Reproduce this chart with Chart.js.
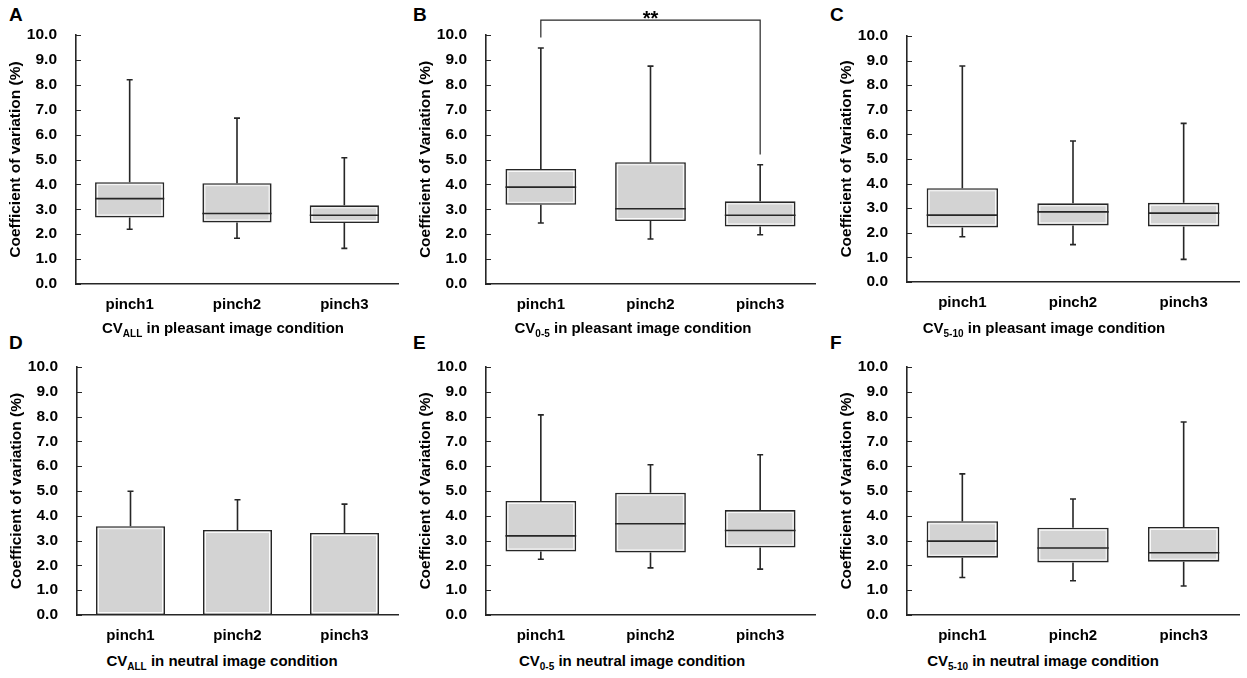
<!DOCTYPE html>
<html>
<head>
<meta charset="utf-8">
<script src="https://cdn.jsdelivr.net/npm/chart.js@4.4.0/dist/chart.umd.min.js"></script>
<style>
body { margin: 0; background: #fff; }
#fig { position: relative; width: 1247px; height: 678px; overflow: hidden; font-family: "Liberation Sans", Arial, sans-serif; }
#fig canvas { position: absolute; }
.letter { position: absolute; font-weight: bold; font-size: 19px; line-height: 19px; color: #000; }
.xt { position: absolute; font-weight: bold; font-size: 15px; line-height: 15px; white-space: nowrap; transform: translateX(-50%); color: #000; }
.xt sub { font-size: 10px; vertical-align: -4px; line-height: 0; }
</style>
</head>
<body>
<div id="fig">
  <div class="letter" style="left:9px;top:5px">A</div>
  <div class="letter" style="left:413px;top:5px">B</div>
  <div class="letter" style="left:830px;top:5px">C</div>
  <div class="letter" style="left:9px;top:333px">D</div>
  <div class="letter" style="left:413px;top:333px">E</div>
  <div class="letter" style="left:830px;top:333px">F</div>
  <canvas id="chartA"></canvas>
  <canvas id="chartB"></canvas>
  <canvas id="chartC"></canvas>
  <canvas id="chartD"></canvas>
  <canvas id="chartE"></canvas>
  <canvas id="chartF"></canvas>
  <div class="xt" style="left:223px;top:320px">CV<sub>ALL</sub> in pleasant image condition</div>
  <div class="xt" style="left:633px;top:320px">CV<sub>0-5</sub> in pleasant image condition</div>
  <div class="xt" style="left:1044px;top:320px">CV<sub>5-10</sub> in pleasant image condition</div>
  <div class="xt" style="left:222px;top:653px">CV<sub>ALL</sub> in neutral image condition</div>
  <div class="xt" style="left:632px;top:653px">CV<sub>0-5</sub> in neutral image condition</div>
  <div class="xt" style="left:1043px;top:653px">CV<sub>5-10</sub> in neutral image condition</div>
</div>
<script>
const categories = ['pinch1', 'pinch2', 'pinch3'];

// box plots: one row per pinch, [min, q1, median, q3, max]
const pleasantAll = [[2.20, 2.67, 3.43, 4.09, 8.20], [1.84, 2.47, 2.83, 4.05, 6.66], [1.43, 2.45, 2.76, 3.16, 5.07]];
const pleasant05 = [[2.45, 3.18, 3.89, 4.62, 9.48], [1.81, 2.53, 3.02, 4.89, 8.75], [1.98, 2.31, 2.76, 3.32, 4.79]];
const pleasant510 = [[1.84, 2.22, 2.72, 3.81, 8.78], [1.52, 2.30, 2.85, 3.20, 5.73], [0.92, 2.26, 2.80, 3.22, 6.45]];
const neutral05 = [[2.25, 2.56, 3.19, 4.60, 8.07], [1.90, 2.52, 3.68, 4.93, 6.06], [1.85, 2.72, 3.41, 4.23, 6.46]];
const neutral510 = [[1.51, 2.31, 2.98, 3.78, 5.69], [1.38, 2.12, 2.70, 3.52, 4.68], [1.17, 2.15, 2.51, 3.55, 7.78]];

// neutral CV_ALL is a mean bar with SD
const neutralAllMean = [3.58, 3.43, 3.31];
const neutralAllSd = [1.41, 1.22, 1.16];

// pinch1 vs pinch3 in panel B
const sigPair = [0, 2];
const sigLevel = 10.6, sigLeftFoot = 9.9, sigRightFoot = 5.2;
const sigLabel = '**';

const titleLower = 'Coefficient of variation (%)';
const titleUpper = 'Coefficient of Variation (%)';

const INK = '#262626';
const FONT = '"Liberation Sans", Arial, sans-serif';

const boxPlugin = {
    id: 'boxWhiskers',
    afterDatasetsDraw(chart) {
        const ctx = chart.ctx;
        const ds = chart.data.datasets[0];
        const y = chart.scales.y;
        const meta = chart.getDatasetMeta(0);
        ctx.save();
        meta.data.forEach((bar, i) => {
            const half = bar.width / 2;
            const top = Math.min(bar.y, bar.base), bot = Math.max(bar.y, bar.base);
            // light inner edge
            ctx.strokeStyle = 'rgba(255,255,255,0.9)';
            ctx.lineWidth = 1;
            ctx.strokeRect(bar.x - half + 2.5, top + 2.5, bar.width - 5, bot - top - 5);

            ctx.strokeStyle = INK;
            ctx.lineWidth = 1.6;
            ctx.beginPath();
            if (ds.stats) {
                const s = ds.stats[i];
                const pMin = y.getPixelForValue(s[0]);
                const pMed = y.getPixelForValue(s[2]);
                const pMax = y.getPixelForValue(s[4]);
                ctx.moveTo(bar.x - half, pMed); ctx.lineTo(bar.x + half, pMed);
                ctx.moveTo(bar.x, top); ctx.lineTo(bar.x, pMax);
                ctx.moveTo(bar.x - 3, pMax); ctx.lineTo(bar.x + 3, pMax);
                ctx.moveTo(bar.x, bot); ctx.lineTo(bar.x, pMin);
                ctx.moveTo(bar.x - 3, pMin); ctx.lineTo(bar.x + 3, pMin);
            } else if (ds.sd) {
                const pErr = y.getPixelForValue(ds.data[i] + ds.sd[i]);
                ctx.moveTo(bar.x, top); ctx.lineTo(bar.x, pErr);
                ctx.moveTo(bar.x - 3, pErr); ctx.lineTo(bar.x + 3, pErr);
            }
            ctx.stroke();
        });
        ctx.restore();
    },
    afterDraw(chart) {
        const ctx = chart.ctx;
        const x = chart.scales.x, y = chart.scales.y;
        const area = chart.chartArea;
        ctx.save();
        ctx.strokeStyle = INK;
        ctx.lineWidth = 1.2;
        ctx.beginPath();
        y.ticks.forEach(t => {
            const py = Math.round(y.getPixelForValue(t.value)) + 0.5;
            ctx.moveTo(area.left, py); ctx.lineTo(area.left + 5, py);
        });
        ctx.stroke();
        if (chart.data.datasets[0].sig) {
            const x1 = x.getPixelForValue(sigPair[0]);
            const x2 = x.getPixelForValue(sigPair[1]);
            const pl = y.getPixelForValue(sigLevel);
            ctx.beginPath();
            ctx.moveTo(x1, y.getPixelForValue(sigLeftFoot));
            ctx.lineTo(x1, pl);
            ctx.lineTo(x2, pl);
            ctx.lineTo(x2, y.getPixelForValue(sigRightFoot));
            ctx.stroke();
            ctx.fillStyle = '#000';
            ctx.font = 'bold 20px ' + FONT;
            ctx.textAlign = 'center';
            ctx.textBaseline = 'alphabetic';
            ctx.fillText(sigLabel, (x1 + x2) / 2, pl + 5);
        }
        ctx.restore();
    }
};

const panels = [
    { id: 'chartA', stats: pleasantAll, title: titleLower, area: [76, 398, 35, 284] },
    { id: 'chartB', stats: pleasant05, title: titleUpper, area: [486, 815, 35, 284], sig: true },
    { id: 'chartC', stats: pleasant510, title: titleUpper, area: [907, 1239, 36, 282] },
    { id: 'chartD', mean: neutralAllMean, sd: neutralAllSd, title: titleLower, area: [77, 398, 367, 615] },
    { id: 'chartE', stats: neutral05, title: titleUpper, area: [486, 815, 367, 615] },
    { id: 'chartF', stats: neutral510, title: titleUpper, area: [907, 1239, 367, 615] }
];

panels.forEach(p => {
    const [aLeft, aRight, aTop, aBottom] = p.area;
    const left = aLeft - 76, top = aTop - 35;
    const width = aRight - left + 8, height = aBottom - top + 34;
    const cv = document.getElementById(p.id);
    cv.width = width; cv.height = height;
    cv.style.left = left + 'px'; cv.style.top = top + 'px';
    cv.style.width = width + 'px'; cv.style.height = height + 'px';

    const dataset = {
        data: p.stats ? p.stats.map(s => [s[1], s[3]]) : p.mean,
        backgroundColor: '#d3d3d3',
        borderColor: INK,
        borderWidth: 1.6,
        borderSkipped: false,
        barPercentage: 0.645,
        categoryPercentage: 1
    };
    if (p.stats) dataset.stats = p.stats;
    if (p.sd) dataset.sd = p.sd;
    if (p.sig) dataset.sig = true;

    new Chart(cv.getContext('2d'), {
        type: 'bar',
        data: { labels: categories, datasets: [dataset] },
        options: {
            responsive: false,
            animation: false,
            devicePixelRatio: 1,
            layout: { padding: { left: 0, right: 8, top: 35, bottom: 0 } },
            plugins: { legend: { display: false }, tooltip: { enabled: false } },
            scales: {
                x: {
                    grid: { display: false, drawTicks: false },
                    border: { display: true, color: INK, width: 1.6 },
                    ticks: { padding: 12, color: '#000', font: { family: FONT, size: 15, weight: 'bold' } },
                    afterFit(s) { s.height = 34; }
                },
                y: {
                    min: 0,
                    max: 10,
                    grid: { display: false, drawTicks: false },
                    border: { display: true, color: INK, width: 1.6 },
                    ticks: {
                        stepSize: 1,
                        padding: 19,
                        color: '#000',
                        font: { family: FONT, size: 15.5, weight: 'bold' },
                        callback: v => Number(v).toFixed(1)
                    },
                    title: {
                        display: true,
                        text: p.title,
                        color: '#000',
                        font: { family: FONT, size: 15.5, weight: 'bold' },
                        padding: { top: 6, bottom: 0 }
                    },
                    afterFit(s) { s.width = 76; }
                }
            }
        },
        plugins: [boxPlugin]
    });
});
</script>
</body>
</html>
